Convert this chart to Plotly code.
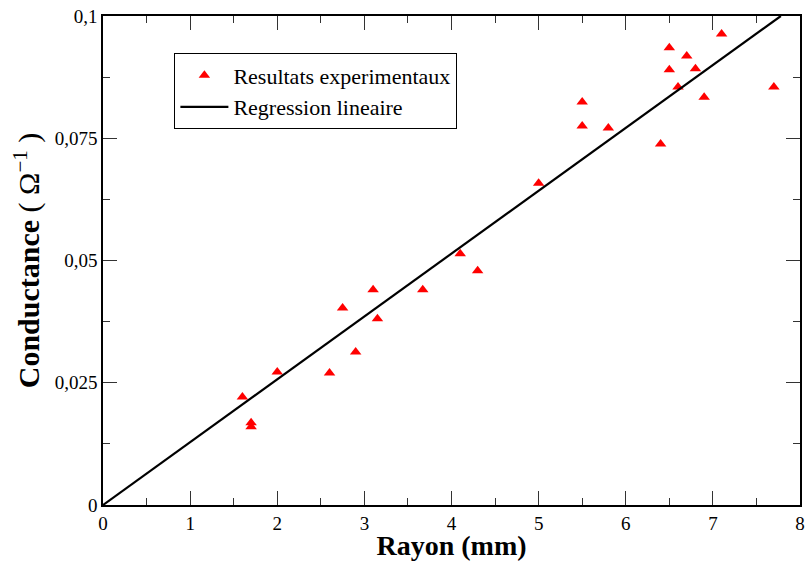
import plotly.graph_objects as go

rayon_mm = [1.6, 1.7, 1.7, 2.0, 2.6, 2.75, 2.9, 3.1, 3.15, 3.67, 4.1, 4.3,
            5.0, 5.5, 5.5, 5.8, 6.4, 6.5, 6.5, 6.6, 6.7, 6.8, 6.9, 7.1, 7.7]
conductance = [0.0221, 0.0168, 0.0160, 0.0272, 0.0270, 0.0403, 0.0313, 0.0440, 0.0381,
               0.0440, 0.0514, 0.0479, 0.0658, 0.0824, 0.0775, 0.0771, 0.0738, 0.0935,
               0.0890, 0.0855, 0.0918, 0.0892, 0.0834, 0.0963, 0.0855]
reg_x = [0.0, 7.78]
reg_y = [0.0, 0.1]

x_tickvals = [0, 1, 2, 3, 4, 5, 6, 7, 8]
x_ticktext = ["0", "1", "2", "3", "4", "5", "6", "7", "8"]
y_tickvals = [0, 0.025, 0.05, 0.075, 0.1]
y_ticktext = ["0", "0,025", "0,05", "0,075", "0,1"]

SERIF = "Liberation Serif"

fig = go.Figure()
fig.add_trace(go.Scatter(
    x=rayon_mm, y=conductance, mode="markers", name="Resultats experimentaux",
    marker=dict(symbol="triangle-up", size=10, color="#ff0000", line=dict(width=0)),
))
fig.add_trace(go.Scatter(
    x=reg_x, y=reg_y, mode="lines", name="Regression lineaire",
    line=dict(color="black", width=2.2),
))

axis_common = dict(
    showline=True, linecolor="black", linewidth=1.5, mirror="allticks",
    ticks="inside", ticklen=14, tickwidth=1.3, tickcolor="#333",
    showgrid=False, zeroline=False, automargin=False,
    tickfont=dict(family=SERIF, size=19, color="black"),
)

fig.update_xaxes(
    range=[0, 8], tickvals=x_tickvals, ticktext=x_ticktext,
    minor=dict(ticks="inside", ticklen=7, tickwidth=1.3, tickcolor="#333", dtick=0.5, showgrid=False),
    title=dict(text="<b>Rayon (mm)</b>", font=dict(family=SERIF, size=28, color="black"), standoff=6),
    **axis_common,
)
fig.update_yaxes(
    range=[0, 0.1], tickvals=y_tickvals, ticktext=y_ticktext,
    minor=dict(ticks="inside", ticklen=7, tickwidth=1.3, tickcolor="#333", dtick=0.0125, showgrid=False),
    title=dict(text="<b>Conductance</b> ( Ω<sup>−1</sup> )", font=dict(family=SERIF, size=30, color="black"), standoff=6),
    **axis_common,
)

fig.update_layout(
    width=805, height=561,
    margin=dict(l=103, r=5, t=16, b=56),
    paper_bgcolor="white", plot_bgcolor="white",
    showlegend=True,
    legend=dict(
        x=0.102, y=0.924, xanchor="left", yanchor="top",
        bgcolor="white", bordercolor="black", borderwidth=1.3,
        font=dict(family=SERIF, size=22, color="black"),
        tracegroupgap=0, itemwidth=48,
    ),
)

fig.write_html("out.html", config={"displayModeBar": False},
               post_script="document.body.style.margin='0';")
